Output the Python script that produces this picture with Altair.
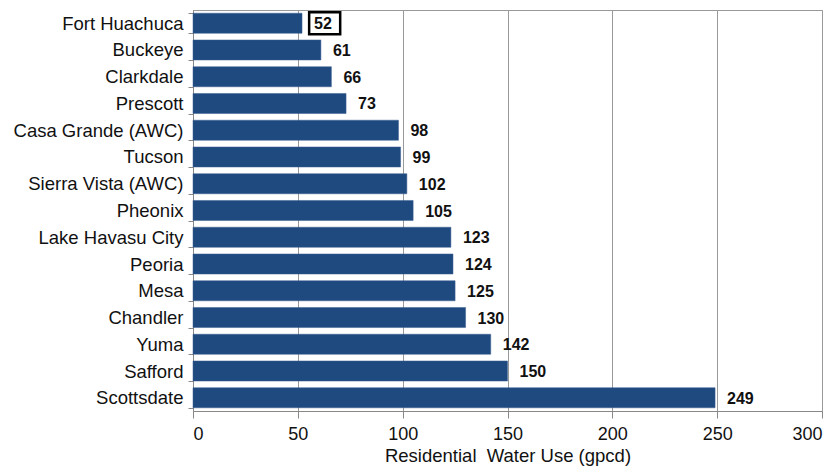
import altair as alt
import pandas as pd

cities = ["Fort Huachuca", "Buckeye", "Clarkdale", "Prescott", "Casa Grande (AWC)", "Tucson",
          "Sierra Vista (AWC)", "Pheonix", "Lake Havasu City", "Peoria", "Mesa", "Chandler",
          "Yuma", "Safford", "Scottsdate"]
values = [52, 61, 66, 73, 98, 99, 102, 105, 123, 124, 125, 130, 142, 150, 249]
x_ticks = [0, 50, 100, 150, 200, 250, 300]

df = pd.DataFrame({"city": cities, "value": values})

y_enc = alt.Y("city:N", sort=cities, title=None,
              scale=alt.Scale(paddingInner=0.25, paddingOuter=0.12),
              axis=alt.Axis(labelFont="Liberation Sans", labelFontSize=18.5, labelColor="#111",
                            labelPadding=5, tickBand="extent", tickColor="#888", tickSize=5,
                            domainColor="#888", grid=False))
x_enc = alt.X("value:Q", title="Residential\u00a0 Water Use (gpcd)",
              scale=alt.Scale(domain=[0, 300], nice=False),
              axis=alt.Axis(values=x_ticks, labelFont="Liberation Sans", labelFontSize=18,
                            labelColor="#111", labelPadding=7, tickColor="#888", tickSize=7,
                            domainColor="#888", gridColor="#999", gridWidth=1,
                            titleFont="Liberation Sans", titleFontSize=18.5, titleFontWeight="normal",
                            titleColor="#111", titlePadding=3))

bars = alt.Chart(df).mark_bar(color="#1F4A80", stroke="#3a5f90", strokeWidth=0.5).encode(y=y_enc, x=x_enc)

box = alt.Chart(df).transform_filter(alt.datum.city == "Fort Huachuca").transform_calculate(
    lo="datum.value + 3.4", hi="datum.value + 18.2"
).mark_rect(fill="white", stroke="black", strokeWidth=2.5, height=22).encode(
    y=alt.Y("city:N", sort=cities), x="lo:Q", x2="hi:Q")

labels = alt.Chart(df).mark_text(align="left", baseline="middle", dx=12, dy=1, fontWeight="bold",
                                 font="Liberation Sans", fontSize=16, color="#111").encode(
    y=alt.Y("city:N", sort=cities), x="value:Q", text="value:Q")

chart = (bars + box + labels).properties(
    width=629, height=401,
    autosize=alt.AutoSizeParams(type="none"),
    padding={"left": 185, "top": 2, "right": 6, "bottom": 57},
).configure_view(stroke="#999", strokeWidth=1)

chart.save("out.html", embed_options={"renderer": "svg", "actions": False})
